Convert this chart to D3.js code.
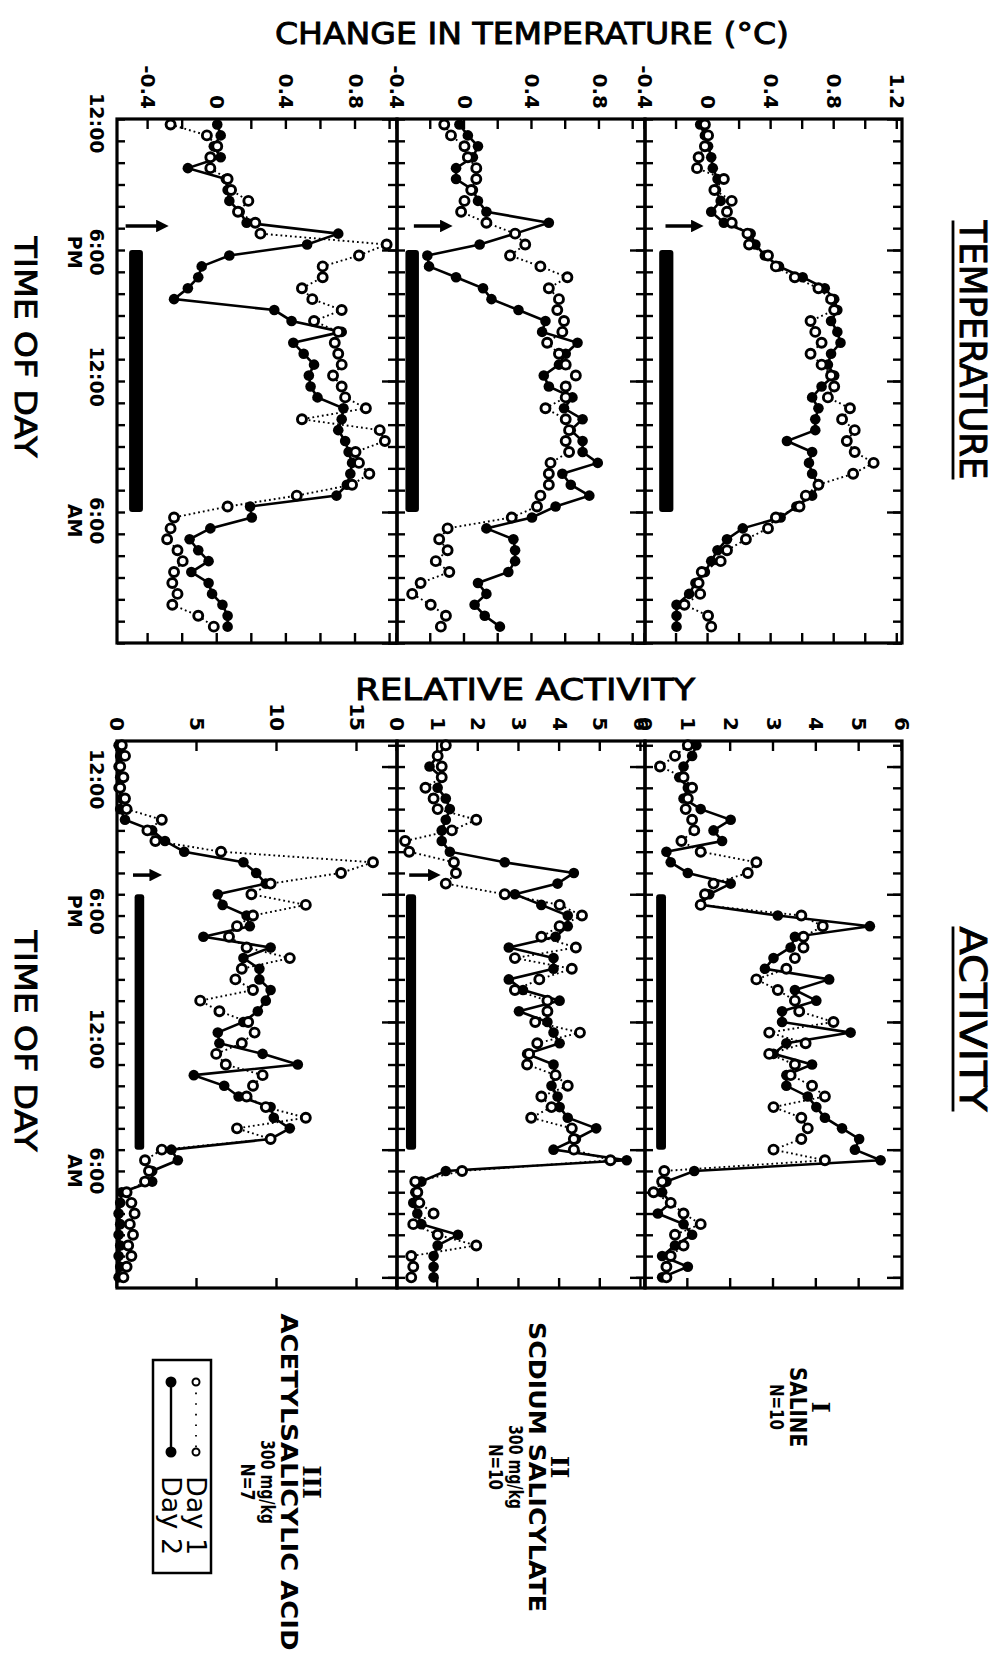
<!DOCTYPE html>
<html>
<head>
<meta charset="utf-8">
<script src="https://cdn.jsdelivr.net/npm/d3@7/dist/d3.min.js"></script>
<style>
  html, body { margin: 0; padding: 0; background: #fff; }
  svg { display: block; }
</style>
</head>
<body>
<div class="canvas"></div>
<script>
// the figure is drawn landscape and then turned a quarter clockwise, like the scan
const width = 996
const height = 1653
const font = 'DejaVu Sans'

// ---------- data ----------
const groups = ['I', 'II', 'III']
const groupNames = [
  ['SALINE', 'N=10'],
  ['SCDIUM SALICYLATE', '300 mg/kg', 'N=10'],
  ['ACETYLSALICYLIC ACID', '300 mg/kg', 'N=7']
]

// hours after 12:00 noon
const tempHours = [0.25,0.75,1.25,1.75,2.25,2.75,3.25,3.75,4.25,4.75,5.25,5.75,6.25,6.75,7.25,7.75,8.25,8.75,9.25,9.75,
  10.25,10.75,11.25,11.75,12.25,12.75,13.25,13.75,14.25,14.75,15.25,15.75,16.25,16.75,17.25,17.75,18.25,18.75,19.25,19.75,
  20.25,20.75,21.25,21.75,22.25,22.75,23.25]
const actHours = [-1,-0.5,0,0.5,1,1.5,2,2.5,3,3.5,4,4.5,5,5.5,6,6.5,7,7.5,8,8.5,9,9.5,10,10.5,11,11.5,12,12.5,13,13.5,
  14,14.5,15,15.5,16,16.5,17,17.5,18,18.5,19,19.5,20,20.5,21,21.5,22,22.5,23,23.5,24]

// change in temperature (deg C)
const tempSalineDay1 = [-0.02,0.0,-0.02,-0.06,-0.07,0.1,0.04,0.15,0.12,0.15,0.25,0.26,0.38,0.43,0.55,0.7,0.78,0.8,0.65,0.68,
  0.72,0.65,0.72,0.78,0.8,0.76,0.9,0.85,0.93,0.88,0.93,1.05,0.92,0.7,0.62,0.58,0.43,0.38,0.24,0.12,0.08,-0.04,-0.06,-0.05,-0.15,0.0,0.02]
const tempSalineDay2 = [-0.05,-0.02,0.0,0.02,0.03,0.06,0.05,0.08,0.02,0.1,0.27,0.3,0.36,0.45,0.6,0.74,0.8,0.82,0.78,0.82,
  0.84,0.78,0.76,0.8,0.72,0.66,0.7,0.68,0.68,0.5,0.66,0.64,0.66,0.7,0.66,0.56,0.46,0.22,0.12,0.06,0.02,-0.02,-0.08,-0.12,-0.2,-0.2,-0.2]
const tempSodiumDay1 = [-0.12,-0.08,0.0,0.02,0.07,0.07,0.04,0.0,-0.02,0.13,0.3,0.36,0.27,0.45,0.61,0.5,0.56,0.55,0.59,0.58,
  0.49,0.56,0.6,0.66,0.6,0.6,0.48,0.6,0.62,0.6,0.62,0.51,0.5,0.5,0.45,0.43,0.28,-0.1,-0.15,-0.1,-0.17,-0.09,-0.26,-0.31,-0.2,-0.11,-0.14]
const tempSodiumDay2 = [-0.03,0.02,0.08,0.05,-0.05,-0.05,0.05,0.08,0.13,0.5,0.3,0.09,-0.22,-0.21,-0.05,0.11,0.16,0.32,0.48,0.46,
  0.67,0.6,0.56,0.47,0.5,0.64,0.59,0.7,0.63,0.7,0.7,0.79,0.58,0.63,0.74,0.54,0.4,0.13,0.29,0.3,0.3,0.26,0.08,0.13,0.06,0.12,0.21]
const tempAspirinDay1 = [-0.27,-0.06,0.0,-0.04,-0.04,0.06,0.08,0.18,0.12,0.22,0.25,0.98,0.82,0.61,0.61,0.49,0.55,0.72,0.56,0.7,
  0.68,0.7,0.72,0.67,0.72,0.74,0.86,0.49,0.94,0.97,0.8,0.82,0.88,0.78,0.46,0.06,-0.25,-0.27,-0.29,-0.23,-0.2,-0.25,-0.26,-0.23,-0.26,-0.11,-0.02]
const tempAspirinDay2 = [0.0,0.02,-0.02,0.02,-0.17,0.05,0.06,0.07,0.13,0.17,0.7,0.52,0.07,-0.09,-0.11,-0.17,-0.25,0.33,0.43,0.72,
  0.44,0.5,0.56,0.53,0.54,0.58,0.73,0.72,0.7,0.74,0.76,0.78,0.77,0.75,0.69,0.19,0.2,-0.04,-0.16,-0.11,-0.05,-0.15,-0.05,-0.03,0.03,0.06,0.06]

// relative activity
const actSalineDay1 = [1.0,0.7,0.35,0.9,1.1,1.0,0.95,1.1,1.15,0.85,1.3,2.6,2.4,1.6,1.4,1.3,3.65,4.15,3.7,3.7,
  3.5,3.3,2.6,3.1,3.5,3.6,4.4,2.9,3.75,2.9,3.5,3.4,3.9,4.2,3.0,3.65,3.8,3.65,3.0,4.2,0.45,0.4,0.2,0.6,0.9,1.3,0.7,0.9,0.6,0.5,0.5]
const actSalineDay2 = [1.2,1.1,0.9,0.8,1.0,0.9,1.3,2.0,1.6,1.8,0.5,0.6,1.0,2.0,1.5,1.3,3.1,5.25,3.5,3.4,
  3.0,2.8,4.3,3.5,4.0,3.2,3.2,4.8,3.3,3.0,3.9,3.3,3.3,3.8,4.0,4.2,4.6,5.0,4.9,5.5,1.15,0.5,0.4,0.6,0.3,0.9,1.1,0.7,0.4,1.0,0.4]
const actSodiumDay1 = [1.2,1.0,1.1,1.1,0.7,0.9,1.0,1.95,1.35,0.2,0.3,1.4,1.45,1.2,2.65,4.0,4.55,4.0,3.55,4.4,
  2.9,4.3,3.5,2.9,3.7,3.7,3.4,4.5,3.45,3.25,3.2,3.9,4.2,3.55,3.8,3.3,4.3,4.35,4.35,5.25,1.6,0.45,0.5,0.55,0.9,0.4,1.0,1.95,0.35,0.4,0.35]
const actSodiumDay2 = [1.2,1.0,0.8,1.1,1.0,1.2,1.3,1.2,1.1,1.1,1.3,2.65,4.35,3.95,2.9,3.55,4.2,4.2,3.9,2.75,
  3.85,3.85,2.75,3.1,4.0,3.0,3.7,3.85,4.0,3.2,3.85,3.9,3.8,3.95,4.0,4.2,4.9,4.4,3.85,5.65,1.2,0.6,0.45,0.4,0.5,0.6,1.5,1.0,0.9,0.9,0.9]
const actAspirinDay1 = [0.3,0.5,0.2,0.4,0.2,0.5,0.6,2.8,1.9,2.4,6.5,16.0,14.0,9.6,8.4,11.8,8.5,7.5,7.0,8.1,
  10.8,7.8,7.4,8.5,5.2,6.4,8.2,8.6,7.8,6.2,6.8,9.1,8.5,8.1,9.3,11.8,7.5,9.6,2.8,1.75,2.0,1.75,0.6,0.9,1.1,0.8,1.0,0.7,0.9,0.6,0.4]
const actAspirinDay2 = [0.1,0.2,0.1,0.2,0.1,0.3,0.2,0.5,2.2,3.0,4.2,7.9,8.7,9.3,6.3,6.6,8.1,8.3,5.4,9.6,
  7.9,8.9,8.9,9.6,9.3,8.8,7.9,6.3,6.4,9.1,11.3,4.8,6.7,7.6,9.6,9.8,10.8,9.6,3.4,3.8,2.2,2.2,0.3,0.2,0.1,0.2,0.1,0.2,0.1,0.2,0.1]

// ticks and labels
const timeLabels = [['12:00'], ['6:00', 'PM'], ['12:00'], ['6:00', 'AM']]
const tempLabelHours = [0.2, 6.1, 11.8, 18.4]   // where the print puts them
const actLabelHours = [0.6, 6.8, 12.8, 19.0]
const tempTicks = [[-0.4,-0.2,0,0.2,0.4,0.6,0.8,1.0,1.2], [-0.4,-0.2,0,0.2,0.4,0.6,0.8,1.0], [-0.4,-0.2,0,0.2,0.4,0.6,0.8,1.0]]
const tempTickLabels = [[-0.4, 0, 0.4, 0.8, 1.2], [-0.4, 0, 0.4, 0.8], [-0.4, 0, 0.4, 0.8]]
const actTicks = [[0,1,2,3,4,5,6], [0,1,2,3,4,5,6], [0,5,10,15]]
const actTickLabels = [[0,1,2,3,4,5,6], [0,1,2,3,4,5,6], [0,5,10,15]]
const darkHours = [6, 18]          // lights off
const injectHour = 4.9              // arrow

// ---------- layout (unrotated figure: 1653 wide, 996 tall) ----------
const rowTop = [94, 351, 599]
const rowBot = [351, 599, 879]
const tempDomains = [[-0.4, 1.23], [-0.4, 1.07], [-0.58, 1.04]]
const actDomains = [[0, 6], [0, 6.1], [0, 17.5]]
const tempBarVals = [[-0.31, -0.22], [-0.35, -0.27], [-0.51, -0.43]]
const actBarVals = [[0.26, 0.49], [0.22, 0.47], [1.1, 1.7]]
const tempArrow = [[-0.27, -0.06], [-0.3, -0.1], [-0.53, -0.31]]
const actArrow = [null, [0.3, 0.95], [1.0, 2.5]]

const xT = d3.scaleLinear().domain([0, 24]).range([119, 643])
const xA = d3.scaleLinear().domain([-1.2, 24.5]).range([741, 1288])

const svg = d3.select('.canvas')
  .append('svg')
  .attr('width', width)
  .attr('height', height)

svg.append('rect').attr('width', width).attr('height', height).attr('fill', '#fff')

const defs = svg.append('defs')
defs.append('marker')
  .attr('id', 'head')
  .attr('viewBox', '0 0 10 10')
  .attr('refX', 6).attr('refY', 5)
  .attr('markerWidth', 3.6).attr('markerHeight', 3.6)
  .attr('orient', 'auto')
  .append('path').attr('d', 'M0,0L10,5L0,10z').attr('fill', '#000')

const graph = svg.append('g')
  .attr('transform', `translate(${width},0) rotate(90)`)

function styleAxis(sel, size) {
  sel.select('.domain').remove()
  sel.selectAll('line').attr('stroke', '#000').attr('stroke-width', 2.4)
  sel.selectAll('text')
    .attr('font-family', font)
    .attr('font-weight', 'bold')
    .attr('font-size', size)
    .attr('fill', '#000')
}

function drawPanel(x, y, hours, day1, day2, minor, labelled, bar, arrow, arrowHour) {
  const g = graph.append('g')
  const [xa, xb] = x.range()
  const [yb, ya] = y.range()
  const hourTicks = d3.range(Math.ceil(x.domain()[0]), Math.floor(x.domain()[1]) + 1)

  // hourly ticks, inward on both time edges
  g.append('g').attr('transform', `translate(0,${yb})`)
    .call(d3.axisBottom(x).tickValues(hourTicks).tickSize(-8).tickFormat(''))
    .call(styleAxis, 0)
  g.append('g').attr('transform', `translate(0,${ya})`)
    .call(d3.axisTop(x).tickValues(hourTicks).tickSize(-9).tickFormat(''))
    .call(styleAxis, 0)
  g.append('g').attr('transform', `translate(0,${ya})`)
    .call(d3.axisTop(x).tickValues(hourTicks.filter(h => h % 6 === 0)).tickSize(-15).tickFormat(''))
    .call(styleAxis, 0)

  // value ticks, inward, labels on the left
  g.append('g').attr('transform', `translate(${xa},0)`)
    .call(d3.axisLeft(y).tickValues(minor).tickSize(-10).tickPadding(10)
      .tickFormat(d => labelled.some(v => Math.abs(v - d) < 1e-9) ? String(Math.round(d * 10) / 10) : ''))
    .call(styleAxis, 20)
  g.append('g').attr('transform', `translate(${xb},0)`)
    .call(d3.axisRight(y).tickValues(minor).tickSize(-10).tickFormat(''))
    .call(styleAxis, 0)

  // frame
  g.append('rect')
    .attr('x', xa).attr('y', ya)
    .attr('width', xb - xa).attr('height', yb - ya)
    .attr('fill', 'none').attr('stroke', '#000').attr('stroke-width', 3.2)

  // lights-off bar
  g.append('rect')
    .attr('x', x(darkHours[0])).attr('width', x(darkHours[1]) - x(darkHours[0]))
    .attr('y', y(bar[1])).attr('height', y(bar[0]) - y(bar[1]))
    .attr('rx', 3)
    .attr('fill', '#000')

  // injection arrow
  if (arrow) {
    g.append('line')
      .attr('x1', x(arrowHour)).attr('x2', x(arrowHour))
      .attr('y1', y(arrow[0])).attr('y2', y(arrow[1]))
      .attr('stroke', '#000').attr('stroke-width', 3.5)
      .attr('marker-end', 'url(#head)')
  }

  const line = d3.line().x((d, i) => x(hours[i])).y(d => y(d))

  // day 2: solid line, filled dots
  g.append('path').datum(day2)
    .attr('d', line)
    .attr('fill', 'none').attr('stroke', '#000').attr('stroke-width', 2.6)
  g.selectAll('.d2').data(day2).enter().append('circle')
    .attr('class', 'd2')
    .attr('cx', (d, i) => x(hours[i])).attr('cy', d => y(d))
    .attr('r', 5.3).attr('fill', '#000')

  // day 1: dotted line, open dots
  g.append('path').datum(day1)
    .attr('d', line)
    .attr('fill', 'none').attr('stroke', '#000').attr('stroke-width', 1.9)
    .attr('stroke-dasharray', '1.8,3')
  g.selectAll('.d1').data(day1).enter().append('circle')
    .attr('class', 'd1')
    .attr('cx', (d, i) => x(hours[i])).attr('cy', d => y(d))
    .attr('r', 4.5).attr('fill', '#fff').attr('stroke', '#000').attr('stroke-width', 2.9)
}

const tempSeries = [[tempSalineDay1, tempSalineDay2], [tempSodiumDay1, tempSodiumDay2], [tempAspirinDay1, tempAspirinDay2]]
const actSeries = [[actSalineDay1, actSalineDay2], [actSodiumDay1, actSodiumDay2], [actAspirinDay1, actAspirinDay2]]

groups.forEach((grp, i) => {
  const yT = d3.scaleLinear().domain(tempDomains[i]).range([rowBot[i], rowTop[i]])
  const yA = d3.scaleLinear().domain(actDomains[i]).range([rowBot[i], rowTop[i]])
  drawPanel(xT, yT, tempHours, tempSeries[i][0], tempSeries[i][1], tempTicks[i], tempTickLabels[i], tempBarVals[i], tempArrow[i], injectHour)
  drawPanel(xA, yA, actHours, actSeries[i][0], actSeries[i][1], actTicks[i], actTickLabels[i], actBarVals[i], actArrow[i], injectHour + 0.2)
})

// lettering for titles: regular weight, thickened a little like the stencil print
function lettering(sel, size, len) {
  return sel
    .attr('font-family', font).attr('font-size', size)
    .attr('stroke', '#000').attr('stroke-width', 0.9)
    .attr('textLength', len).attr('lengthAdjust', 'spacingAndGlyphs')
}

// time of day labels under the bottom row
function timeAxisLabels(x, labelHours, centre) {
  const g = graph.append('g').attr('font-family', font).attr('font-weight', 'bold')
  labelHours.forEach((t, i) => {
    const txt = g.append('text')
      .attr('x', x(t)).attr('y', 906)
      .attr('text-anchor', 'middle').attr('font-size', 19)
    timeLabels[i].forEach((s, j) => {
      txt.append('tspan').attr('x', x(t)).attr('dy', j ? 22 : 0).text(s)
    })
  })
  g.append('text')
    .attr('x', centre).attr('y', 981)
    .attr('text-anchor', 'middle')
    .attr('font-weight', 'normal')
    .call(lettering, 31, 221)
    .text('TIME OF DAY')
}
timeAxisLabels(xT, tempLabelHours, 347)
timeAxisLabels(xA, actLabelHours, 1041)

// titles over each column, underlined
function columnTitle(text, cx, len) {
  graph.append('text')
    .attr('x', cx).attr('y', 36)
    .attr('text-anchor', 'middle')
    .call(lettering, 37, len)
    .text(text)
  graph.append('line')
    .attr('x1', cx - len / 2).attr('x2', cx + len / 2)
    .attr('y1', 43).attr('y2', 43)
    .attr('stroke', '#000').attr('stroke-width', 2.8)
}
columnTitle('TEMPERATURE', 350, 259)
columnTitle('ACTIVITY', 1019, 185)

// value axis titles
graph.append('text')
  .attr('transform', 'translate(44,464) rotate(-90)')
  .attr('text-anchor', 'middle')
  .call(lettering, 30, 514)
  .text('CHANGE IN TEMPERATURE (°C)')
graph.append('text')
  .attr('transform', 'translate(700,471) rotate(-90)')
  .attr('text-anchor', 'middle')
  .call(lettering, 30, 340)
  .text('RELATIVE ACTIVITY')

// group labels at the right of each row
const groupX = [1407, 1467, 1482]
const groupY = [184, 445, 693]
const groupLens = [[80, 46], [290, 84, 46], [337, 84, 37]]
groups.forEach((grp, i) => {
  const g = graph.append('g').attr('text-anchor', 'middle')
  g.append('text')
    .attr('x', groupX[i]).attr('y', groupY[i])
    .attr('font-family', 'DejaVu Serif').attr('font-weight', 'bold').attr('font-size', 24)
    .text(grp)
  groupNames[i].forEach((s, j) => {
    g.append('text')
      .attr('x', groupX[i]).attr('y', groupY[i] + 22 + j * 20)
      .attr('font-family', font).attr('font-weight', 'bold')
      .attr('font-size', j === 0 ? 23 : 19)
      .attr('textLength', groupLens[i][j]).attr('lengthAdjust', 'spacingAndGlyphs')
      .text(s)
  })
})

// legend
const legend = graph.append('g').attr('transform', 'translate(1360,785)')
legend.append('rect')
  .attr('width', 213).attr('height', 58)
  .attr('fill', 'none').attr('stroke', '#000').attr('stroke-width', 2.5)
const legendRows = [{name: 'Day 1', y: 15, open: true}, {name: 'Day 2', y: 40, open: false}]
legendRows.forEach(r => {
  legend.append('line')
    .attr('x1', 22).attr('x2', 92).attr('y1', r.y).attr('y2', r.y)
    .attr('stroke', '#000').attr('stroke-width', r.open ? 1.8 : 2.4)
    .attr('stroke-dasharray', r.open ? '1.6,9' : null)
  ;[22, 92].forEach(cx => {
    legend.append('circle')
      .attr('cx', cx).attr('cy', r.y).attr('r', r.open ? 3.5 : 4.5)
      .attr('fill', r.open ? '#fff' : '#000').attr('stroke', '#000').attr('stroke-width', 2)
  })
  legend.append('text')
    .attr('x', 116).attr('y', r.y + 9)
    .attr('font-family', font).attr('font-size', 27)
    .text(r.name)
})
</script>
</body>
</html>
